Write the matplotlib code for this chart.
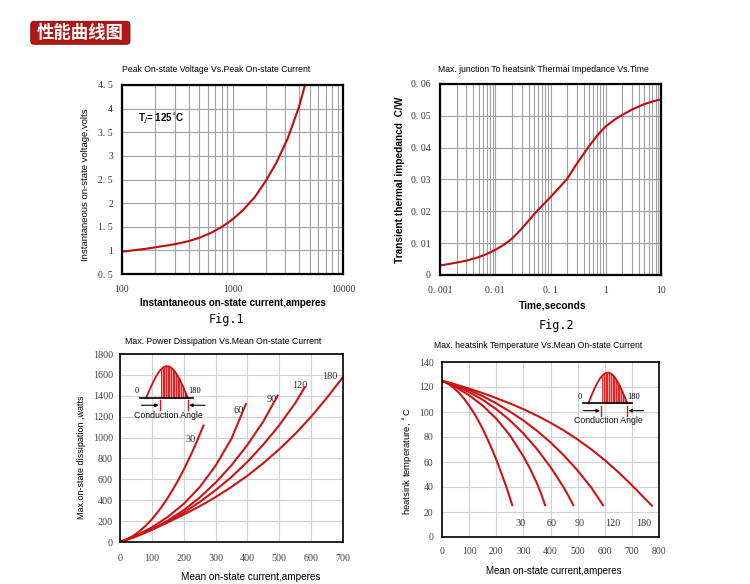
import numpy as np
import matplotlib
matplotlib.use('Agg')
import matplotlib.pyplot as plt
from matplotlib.patches import FancyBboxPatch
from matplotlib.colors import LinearSegmentedColormap
from matplotlib.ticker import LogLocator, NullFormatter

W, H = 750, 584

# ---------------- data ----------------
header_text = "性能曲线图"

# Fig.1  Peak on-state voltage vs peak on-state current
fig1_current = [100, 125, 160, 200, 250, 315, 400, 500, 630, 800, 1000, 1250, 1600, 2000,
                2500, 3150, 4000, 4530]
fig1_voltage = [0.97, 1.00, 1.03, 1.065, 1.10, 1.14, 1.195, 1.265, 1.365, 1.495, 1.655, 1.855,
                2.135, 2.47, 2.86, 3.36, 4.04, 4.5]
fig1_xticks = [100, 1000, 10000]
fig1_xticklabels = ["100", "1000", "10000"]
fig1_yticks = [0.5, 1, 1.5, 2, 2.5, 3, 3.5, 4, 4.5]
fig1_yticklabels = ["0. 5", "1", "1. 5", "2", "2. 5", "3", "3. 5", "4", "4. 5"]

# Fig.2  Transient thermal impedance vs time
fig2_time = [0.001, 0.0015, 0.002, 0.003, 0.005, 0.007, 0.01, 0.015, 0.02, 0.03, 0.05, 0.07,
             0.1, 0.15, 0.2, 0.3, 0.5, 0.7, 1, 1.5, 2, 3, 5, 7, 10]
fig2_zth = [0.0030, 0.0035, 0.0039, 0.0045, 0.0056, 0.0066, 0.0079, 0.0097, 0.0114, 0.0145,
            0.0190, 0.0217, 0.0245, 0.0278, 0.0302, 0.0350, 0.0405, 0.0438, 0.0467, 0.0490,
            0.0503, 0.0520, 0.0537, 0.0545, 0.0552]
fig2_xticks = [0.001, 0.01, 0.1, 1, 10]
fig2_xticklabels = ["0. 001", "0. 01", "0. 1", "1", "10"]
fig2_yticks = [0, 0.01, 0.02, 0.03, 0.04, 0.05, 0.06]
fig2_yticklabels = ["0", "0. 01", "0. 02", "0. 03", "0. 04", "0. 05", "0. 06"]

# Fig.3  Max power dissipation vs mean on-state current
p30_I = [0, 20, 40, 60, 80, 100, 120, 140, 160, 180, 200, 220, 240, 262]
p30_P = [0, 23, 56, 100, 154, 218, 292, 377, 472, 577, 692, 818, 953, 1115]
p60_I = [0, 50, 100, 150, 200, 250, 300, 350, 395]
p60_P = [0, 60, 140, 240, 365, 525, 730, 990, 1320]
p90_I = [0, 50, 100, 150, 200, 250, 300, 350, 400, 450, 495]
p90_P = [0, 55, 122, 205, 305, 425, 568, 735, 930, 1155, 1402]
p120_I = [0, 50, 100, 150, 200, 250, 300, 350, 400, 450, 500, 550, 580]
p120_P = [0, 52, 116, 192, 282, 383, 496, 623, 768, 933, 1118, 1330, 1482]
p180_I = [0, 50, 100, 150, 200, 250, 300, 350, 400, 450, 500, 550, 600, 650, 700]
p180_P = [0, 57, 120, 188, 262, 342, 430, 527, 635, 755, 888, 1035, 1200, 1382, 1580]
fig3_labels = ["30", "60", "90", "120", "180"]
fig3_label_x = [222, 371, 476, 565, 659]
fig3_label_y = [977, 1257, 1360, 1503, 1583]
fig3_xticks = [0, 100, 200, 300, 400, 500, 600, 700]
fig3_yticks = [0, 200, 400, 600, 800, 1000, 1200, 1400, 1600, 1800]

# Fig.4  Max heatsink temperature vs mean on-state current
t30_I = [0, 20, 40, 60, 80, 100, 120, 140, 160, 180, 200, 220, 240, 259]
t30_T = [125, 122.9, 119.9, 115.9, 111.0, 105.1, 98.4, 90.7, 82.0, 72.4, 62.0, 50.5, 38.2, 25.5]
t60_I = [0, 50, 100, 150, 200, 250, 300, 325, 350, 365, 380]
t60_T = [125, 120, 113.4, 105.1, 94.7, 81.5, 64.5, 54.5, 42.9, 34.9, 25.5]
t90_I = [0, 50, 100, 150, 200, 250, 300, 350, 400, 425, 450, 467, 484]
t90_T = [125, 120.9, 115.9, 109.8, 102.3, 93.4, 82.8, 70.4, 55.9, 47.7, 39.2, 32.5, 25.5]
t120_I = [0, 50, 100, 150, 200, 250, 300, 350, 400, 450, 500, 550, 580, 593]
t120_T = [125, 121.7, 117.6, 112.7, 106.9, 100.4, 93.2, 85.0, 75.7, 65.1, 53.2, 39.6, 29.9, 25.5]
t180_I = [0, 50, 100, 150, 200, 250, 300, 350, 400, 450, 500, 550, 600, 650, 700, 774]
t180_T = [125, 122.0, 118.7, 115.1, 111.1, 106.9, 102.3, 97.1, 91.4, 85.1, 78.0, 70.2, 61.5,
          51.9, 41.4, 25]
fig4_labels = ["30", "60", "90", "120", "180"]
fig4_label_x = [288, 404, 509, 629, 745]
fig4_label_y = [11.2, 11.2, 11.2, 11.2, 11.2]
fig4_xticks = [0, 100, 200, 300, 400, 500, 600, 700, 800]
fig4_yticks = [0, 20, 40, 60, 80, 100, 120, 140]

# ---------------- styling helpers ----------------
plt.rcParams['font.family'] = ['Liberation Sans', 'DejaVu Sans']
NARROW = ['Liberation Sans Narrow', 'Liberation Sans', 'DejaVu Sans']
SERIF = ['Liberation Serif', 'DejaVu Serif']
RED = '#cc1414'

fig = plt.figure(figsize=(W / 100, H / 100), dpi=100)


def rect(l, t, r, b):
    return [l / W, 1 - b / H, (r - l) / W, (b - t) / H]


def ftext(x, y, s, **kw):
    fig.text(x / W, 1 - y / H, s, **kw)


# background axes in pixel coordinates (header)
bg = fig.add_axes([0, 0, 1, 1])
bg.set_xlim(0, W)
bg.set_ylim(H, 0)
bg.axis('off')
box = FancyBboxPatch((30.7, 21.3), 99.3, 23, boxstyle='round,pad=0,rounding_size=3.5',
                     facecolor='#b01818', edgecolor='#8a0a0a', lw=0.6)
bg.add_patch(box)
grad = np.array([[0.0], [0.35], [0.55], [1.0]])
cmap = LinearSegmentedColormap.from_list('hdr', ['#d45050', '#bb2020', '#a31010', '#8a0606'])
im = bg.imshow(grad, extent=(30.7, 130, 44.3, 21.3), cmap=cmap, aspect='auto',
               interpolation='bicubic', origin='upper')
im.set_clip_path(box)
ftext(80.5, 33.5, header_text, color='white', fontsize=12.5, fontweight='bold',
      family=['Noto Sans CJK SC', 'DejaVu Sans'], ha='center', va='center')


def style_ticks(ax, color, size, xpad, ypad):
    ax.tick_params(which='both', length=0)
    ax.tick_params(axis='x', pad=xpad)
    ax.tick_params(axis='y', pad=ypad)
    for lab in ax.get_xticklabels() + ax.get_yticklabels():
        lab.set_fontfamily(SERIF)
        lab.set_fontsize(size)
        lab.set_color(color)


# ---------------- Fig.1 ----------------
ax1 = fig.add_axes(rect(122, 85, 343, 274))
ax1.plot(fig1_current, fig1_voltage, color='#c00c0c', lw=1.5, solid_capstyle='round',
         solid_joinstyle='round')
ax1.set_xscale('log')
ax1.set_xlim(100, 10000)
ax1.set_ylim(0.5, 4.5)
ax1.set_xticks(fig1_xticks)
ax1.set_xticklabels(fig1_xticklabels)
ax1.xaxis.set_minor_locator(LogLocator(base=10, subs=np.arange(2, 10)))
ax1.xaxis.set_minor_formatter(NullFormatter())
ax1.set_yticks(fig1_yticks)
ax1.set_yticklabels(fig1_yticklabels)
ax1.grid(which='both', color='#a0a0a0', lw=0.8)
ax1.set_axisbelow(True)
for s in ax1.spines.values():
    s.set_linewidth(1.6)
style_ticks(ax1, '#333333', 7, 8, 6.5)
ax1.text(140, 3.78, r'T$_J$= 125$^{\circ}$C', fontsize=7, fontweight='bold', va='center', ha='left')
ftext(122, 70, 'Peak On-state Voltage Vs.Peak On-state Current', fontsize=6.2, family=NARROW,
      ha='left', va='center')
ftext(233, 303, 'Instantaneous on-state current,amperes', fontsize=7, fontweight='bold',
      ha='center', va='center')
ftext(85, 185, 'Instantaneous on-state voltage,volts', fontsize=6.8, family=NARROW,
      rotation=90, ha='center', va='center')
ftext(226, 320, 'Fig.1', fontsize=8.5, family=['DejaVu Sans Mono'], ha='center', va='center')

# ---------------- Fig.2 ----------------
ax2 = fig.add_axes(rect(440, 84, 661, 275))
ax2.plot(fig2_time, fig2_zth, color='#c00c0c', lw=1.5, solid_capstyle='round',
         solid_joinstyle='round')
ax2.set_xscale('log')
ax2.set_xlim(0.001, 10)
ax2.set_ylim(0, 0.06)
ax2.set_xticks(fig2_xticks)
ax2.set_xticklabels(fig2_xticklabels)
ax2.xaxis.set_minor_locator(LogLocator(base=10, subs=np.arange(2, 10)))
ax2.xaxis.set_minor_formatter(NullFormatter())
ax2.set_yticks(fig2_yticks)
ax2.set_yticklabels(fig2_yticklabels)
ax2.grid(which='both', color='#a0a0a0', lw=0.8)
ax2.set_axisbelow(True)
for s in ax2.spines.values():
    s.set_linewidth(1.6)
style_ticks(ax2, '#333333', 7, 8, 6.5)
ftext(438, 69, 'Max. junction To heatsink Thermai Impedance Vs.Time', fontsize=6.2, family=NARROW,
      ha='left', va='center')
ftext(553, 306, 'Time,seconds', fontsize=7.3, fontweight='bold', ha='center', va='center')
ftext(400, 180, 'Transient thermal impedancd  C/W', fontsize=7.3, fontweight='bold',
      rotation=90, ha='center', va='center')
ftext(556, 326, 'Fig.2', fontsize=8.5, family=['DejaVu Sans Mono'], ha='center', va='center')


# ---------------- conduction angle inset ----------------
def conduction_inset(hx, hy, sx, sy):
    """hx, hy: pixel position of hump start on baseline; sx, sy: px per unit."""
    u0, u1, v0, v1 = -0.45, 1.6, -0.75, 1.1
    left = hx + u0 * sx
    top = hy - v1 * sy
    ia = fig.add_axes(rect(left, top, left + (u1 - u0) * sx, top + (v1 - v0) * sy))
    ia.set_xlim(u0, u1)
    ia.set_ylim(v0, v1)
    ia.axis('off')
    ia.patch.set_alpha(0)
    u = np.linspace(0, 1, 80)
    ia.fill_between(u[u >= 0.33], 0, np.sin(np.pi * u[u >= 0.33]), color='#e62020', lw=0)
    for us in np.arange(0.38, 1.0, 0.06):
        ia.plot([us, us], [0, np.sin(np.pi * us)], color='#ffd0d0', lw=0.5)
    ia.plot(u, np.sin(np.pi * u), color='#d01010', lw=1.3)
    ia.plot([-0.14, 1.12], [0, 0], color='black', lw=1.2)
    for ut in (0.33, 1.0):
        ia.plot([ut, ut], [-0.08, -0.4], color='#e01010', lw=1.0)
    ia.annotate('', xy=(0.3, -0.24), xytext=(-0.12, -0.24),
                arrowprops=dict(arrowstyle='-|>', color='black', lw=0.8,
                                mutation_scale=5, shrinkA=0, shrinkB=0))
    ia.annotate('', xy=(1.03, -0.24), xytext=(1.42, -0.24),
                arrowprops=dict(arrowstyle='-|>', color='black', lw=0.8,
                                mutation_scale=5, shrinkA=0, shrinkB=0))
    ia.text(-0.22, 0.2, '0', fontsize=6, family=SERIF, ha='center', va='center')
    ia.text(1.17, 0.2, '180', fontsize=6, family=SERIF, ha='center', va='center')
    ia.text(0.52, -0.55, 'Conduction Angle', fontsize=6.3, ha='center', va='center', color='#111111')


# ---------------- Fig.3 ----------------
ax3 = fig.add_axes(rect(120, 354, 343, 542))
for xs, ys in [(p30_I, p30_P), (p60_I, p60_P), (p90_I, p90_P), (p120_I, p120_P), (p180_I, p180_P)]:
    ax3.plot(xs, ys, color=RED, lw=1.5, solid_joinstyle='round')
for lab, lx, ly in zip(fig3_labels, fig3_label_x, fig3_label_y):
    ax3.text(lx, ly, lab, fontsize=7.5, family=SERIF, color='#333333', ha='center', va='center')
ax3.set_xlim(0, 700)
ax3.set_ylim(0, 1800)
ax3.set_xticks(fig3_xticks)
ax3.set_yticks(fig3_yticks)
ax3.grid(color='#d2d2d2', lw=0.8)
ax3.set_axisbelow(True)
for s in ax3.spines.values():
    s.set_linewidth(1.2)
style_ticks(ax3, '#444444', 7.3, 8.5, 5)
ftext(223, 342, 'Max. Power Dissipation Vs.Mean On-state Current', fontsize=6.3, family=NARROW,
      ha='center', va='center')
ftext(251, 577, 'Mean on-state current,amperes', fontsize=7.2, ha='center', va='center')
ftext(81, 457, 'Max.on-state dissipation ,watts', fontsize=6.5, family=NARROW,
      rotation=90, ha='center', va='center')
conduction_inset(146.3, 397.7, 41.5, 31.5)

# ---------------- Fig.4 ----------------
ax4 = fig.add_axes(rect(442, 362, 659, 537))
for xs, ys in [(t30_I, t30_T), (t60_I, t60_T), (t90_I, t90_T), (t120_I, t120_T), (t180_I, t180_T)]:
    ax4.plot(xs, ys, color=RED, lw=1.5, solid_joinstyle='round')
for lab, lx, ly in zip(fig4_labels, fig4_label_x, fig4_label_y):
    ax4.text(lx, ly, lab, fontsize=7.3, family=SERIF, color='#333333', ha='center', va='center')
ax4.set_xlim(0, 800)
ax4.set_ylim(0, 140)
ax4.set_xticks(fig4_xticks)
ax4.set_yticks(fig4_yticks)
ax4.grid(color='#d2d2d2', lw=0.8)
ax4.set_axisbelow(True)
for s in ax4.spines.values():
    s.set_linewidth(1.2)
style_ticks(ax4, '#444444', 7.0, 7, 6)
ftext(538, 346, 'Max. heatsink Temperature Vs.Mean On-state Current', fontsize=6.2, family=NARROW,
      ha='center', va='center')
ftext(554, 571, 'Mean on-state current,amperes', fontsize=7.0, ha='center', va='center')
ftext(408, 461, 'heatsink temperature, $^{\\circ}$C', fontsize=6.8,
      rotation=90, ha='center', va='center')
conduction_inset(588.3, 403.3, 39.0, 30.6)

fig.savefig('out.png', dpi=100, facecolor='white')
